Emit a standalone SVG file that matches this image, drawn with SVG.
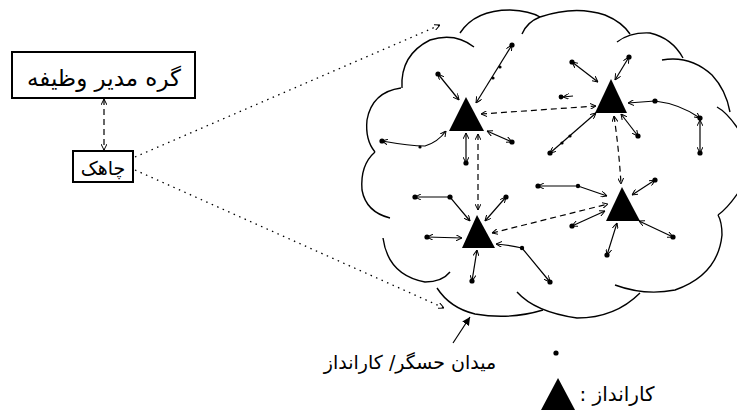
<svg xmlns="http://www.w3.org/2000/svg" width="737" height="412" viewBox="0 0 737 412">
<style>
.txt{font-family:"DejaVu Sans",sans-serif;fill:#000}
.box{fill:#fff;stroke:#000;stroke-width:2}
.cloud{fill:none;stroke:#000;stroke-width:1.4}
.link{fill:none;stroke:#000;stroke-width:1.2;marker-start:url(#ah);marker-end:url(#ah)}
.dash{fill:none;stroke:#000;stroke-width:1.2;stroke-dasharray:6 4;marker-start:url(#ah);marker-end:url(#ah)}
.dot{fill:none;stroke:#000;stroke-width:1.3;stroke-dasharray:1.5 4.5;marker-end:url(#ah)}
.tri{fill:#000}
.s{fill:#000}
</style>
<defs>
<marker id="ah" viewBox="0 0 6 6" refX="6" refY="3" markerWidth="6" markerHeight="6" markerUnits="userSpaceOnUse" orient="auto-start-reverse">
<path d="M0,0 L6,3 L0,6" fill="none" stroke="#000" stroke-width="1"/>
</marker>
<marker id="fa" viewBox="0 0 8 8" refX="8" refY="4" markerWidth="8" markerHeight="8" markerUnits="userSpaceOnUse" orient="auto">
<path d="M0,0 L8,4 L0,8 Z" fill="#000"/>
</marker>
</defs>
<rect width="737" height="412" fill="#fff"/>

<g id="cloud">
<path class="cloud" d="M401,88 Q372,92 367,120 Q365,140 375,152"/>
<path class="cloud" d="M375,152 Q360,165 362,190 Q366,212 390,218"/>
<path class="cloud" d="M383,238 Q388,275 425,282 Q442,282 450,272"/>
<path class="cloud" d="M437,288 Q450,308 475,314 Q510,320 543,310"/>
<path class="cloud" d="M517,292 Q535,312 577,318 Q615,318 640,293"/>
<path class="cloud" d="M615,285 Q645,296 675,290 Q718,275 722,235 Q722,222 718,215"/>
<path class="cloud" d="M718,215 Q728,208 740,190"/>
<path class="cloud" d="M402,88 Q400,55 430,40 Q455,32 474,47"/>
<path class="cloud" d="M460,33 Q475,10 510,10 Q530,11 540,17"/>
<path class="cloud" d="M522,34 Q527,22 540,17"/>
<path class="cloud" d="M540,17 Q575,5 605,15 Q622,22 630,34"/>
<path class="cloud" d="M617,42 Q630,32 650,33 Q672,38 683,58"/>
<path class="cloud" d="M662,60 Q690,55 712,75 Q726,90 730,112"/>
<path class="cloud" d="M717,107 Q730,114 745,140"/>
</g>

<g id="manager">
<rect class="box" x="12" y="52" width="183" height="46"/>
<text class="txt" x="104" y="86" font-size="23" text-anchor="middle" direction="rtl">گره مدیر وظیفه</text>
</g>

<g id="sink">
<rect class="box" x="73" y="151" width="60" height="31"/>
<text class="txt" x="103" y="175" font-size="19" text-anchor="middle" direction="rtl">چاهک</text>
</g>

<g id="actor1"><polygon class="tri" points="466,97 449,131 484,131"/></g>
<g id="actor2"><polygon class="tri" points="611,79 595,113 627,113"/></g>
<g id="actor3"><polygon class="tri" points="477,215 462,248 495,248"/></g>
<g id="actor4"><polygon class="tri" points="622,187 606,221 640,221"/></g>

<g id="sensors">
<circle class="s" cx="438" cy="74" r="2.6"/>
<circle class="s" cx="512" cy="45" r="2.6"/>
<circle class="s" cx="382" cy="141" r="2.6"/>
<circle class="s" cx="466" cy="163" r="2.6"/>
<circle class="s" cx="512" cy="142" r="2.6"/>
<circle class="s" cx="572" cy="62" r="2.6"/>
<circle class="s" cx="629" cy="57" r="2.6"/>
<circle class="s" cx="561" cy="97" r="2.4"/>
<circle class="s" cx="655" cy="101" r="2.6"/>
<circle class="s" cx="700" cy="118" r="2.6"/>
<circle class="s" cx="700" cy="153" r="2.6"/>
<circle class="s" cx="550" cy="153" r="2.6"/>
<circle class="s" cx="638" cy="136" r="2.6"/>
<circle class="s" cx="415" cy="197" r="2.6"/>
<circle class="s" cx="450" cy="197" r="2.6"/>
<circle class="s" cx="506" cy="197" r="2.6"/>
<circle class="s" cx="427" cy="237" r="2.6"/>
<circle class="s" cx="522" cy="248" r="2.2"/>
<circle class="s" cx="550" cy="282" r="2.6"/>
<circle class="s" cx="472" cy="281" r="2.6"/>
<circle class="s" cx="538" cy="186" r="2.6"/>
<circle class="s" cx="578" cy="186" r="2.2"/>
<circle class="s" cx="655" cy="180" r="2.6"/>
<circle class="s" cx="572" cy="226" r="2.6"/>
<circle class="s" cx="673" cy="237" r="2.6"/>
<circle class="s" cx="607" cy="255" r="2.6"/>
<circle class="s" cx="493" cy="78" r="1.6"/>
<circle class="s" cx="500" cy="67" r="1.6"/>
<circle class="s" cx="420" cy="147" r="1.6"/>
<circle class="s" cx="570" cy="136" r="1.6"/>
<circle class="s" cx="562" cy="143" r="1.6"/>
</g>

<g id="connectors">
<line class="dash" x1="104" y1="99" x2="104" y2="150"/>
<line class="dot" x1="135" y1="157" x2="440" y2="25"/>
<line class="dot" x1="135" y1="170" x2="444" y2="308"/>
<line x1="453" y1="343" x2="470" y2="317" stroke="#000" stroke-width="1.2" marker-end="url(#fa)"/>

<line class="dash" x1="481" y1="114" x2="596" y2="106"/>
<line class="dash" x1="478" y1="134" x2="478" y2="210"/>
<path class="dash" d="M614,116 Q619,150 621,184"/>
<line class="dash" x1="492" y1="233" x2="608" y2="204"/>

<line class="link" x1="438" y1="74" x2="459" y2="100"/>
<line class="link" x1="512" y1="45" x2="476" y2="103"/>
<path class="link" d="M382,141 Q410,146 425,146 Q438,142 446,131"/>
<line class="link" x1="466" y1="163" x2="466" y2="133"/>
<line class="link" x1="512" y1="142" x2="487" y2="131"/>
<line class="link" x1="572" y1="62" x2="598" y2="82"/>
<line class="link" x1="629" y1="57" x2="615" y2="80"/>
<line x1="573" y1="96" x2="563" y2="97" stroke="#000" stroke-width="1.2" marker-end="url(#ah)"/>
<path class="link" d="M700,118 Q680,104 655,101 L628,103"/>
<line class="link" x1="700" y1="153" x2="700" y2="120"/>
<line class="link" x1="550" y1="153" x2="596" y2="113"/>
<line class="link" x1="638" y1="136" x2="621" y2="114"/>
<path class="link" d="M415,197 L450,197 L470,221"/>
<line class="link" x1="506" y1="197" x2="485" y2="221"/>
<line class="link" x1="427" y1="237" x2="462" y2="238"/>
<path class="link" d="M550,282 L522,248 Q510,245 496,244"/>
<line class="link" x1="472" y1="281" x2="477" y2="250"/>
<path class="link" d="M538,186 L578,186 L607,196"/>
<line class="link" x1="655" y1="180" x2="632" y2="195"/>
<line class="link" x1="572" y1="226" x2="605" y2="211"/>
<line class="link" x1="673" y1="237" x2="639" y2="221"/>
<line class="link" x1="607" y1="255" x2="617" y2="223"/>
</g>

<g id="labels">
<text class="txt" x="410" y="369" font-size="19" text-anchor="middle" direction="rtl">میدان حسگر/ کارانداز</text>
</g>

<g id="legend">
<circle class="s" cx="556" cy="353" r="2.6"/>
<polygon class="tri" points="558,378 541,410 575,410"/>
<text class="txt" x="617" y="401" font-size="20" text-anchor="middle" direction="rtl">کارانداز :</text>
</g>
</svg>
